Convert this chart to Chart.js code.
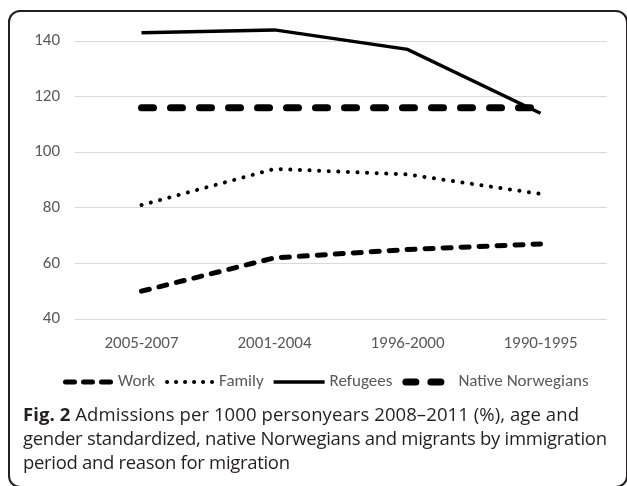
<!DOCTYPE html>
<html>
<head>
<meta charset="utf-8">
<script src="https://cdn.jsdelivr.net/npm/chart.js@4/dist/chart.umd.min.js"></script>
<style>
  html, body { margin: 0; padding: 0; background: #fff; }
  body { width: 627px; height: 486px; position: relative; overflow: hidden; }
  #wrap { position: absolute; left: 0; top: 0; width: 627px; height: 398px; }
  #frame {
    position: absolute; left: 8px; top: 10px; width: 616px; height: 474px;
    border: 2px solid #231f20; border-radius: 12px; pointer-events: none;
  }
  #caption {
    position: absolute; left: 23px; top: 402px; white-space: nowrap;
    font-family: "Open Sans", sans-serif; font-size: 18.5px; line-height: 24px;
    color: #231f20;
  }
  #caption span { display: block; width: max-content; }
  #caption b { font-weight: 700; }
</style>
</head>
<body>
<div id="wrap"><canvas id="myChart"></canvas></div>
<div id="frame"></div>
<div id="caption">
  <span data-w="556"><b>Fig. 2</b> Admissions per 1000 personyears 2008–2011 (%), age and</span>
  <span data-w="584">gender standardized, native Norwegians and migrants by immigration</span>
  <span data-w="267">period and reason for migration</span>
</div>
<script>
const perioder = ["2005-2007", "2001-2004", "1996-2000", "1990-1995"];
const work = [50, 62, 65, 67];
const family = [81, 94, 92, 85];
const refugees = [143, 144, 137, 114];
const nativeNorwegians = [116, 116, 116, 116];
const yTicks = [40, 60, 80, 100, 120, 140];

const fontFam = "Carlito, Lato, sans-serif";
const grey = "#595959";

// stretch / squeeze every caption line to the width it has in the figure
document.querySelectorAll("#caption span").forEach(s => {
    const cilj = parseFloat(s.dataset.w);
    const sirina = s.getBoundingClientRect().width;
    const n = s.textContent.length - 1;
    s.style.letterSpacing = ((cilj - sirina) / n) + "px";
});

let ctx = document.getElementById("myChart");

// legendDash / legendWidth: how the line sample looks in the legend row
const datasets = [{
    label: "Work",
    data: work,
    borderColor: "#000",
    borderWidth: 5,
    borderDash: [8, 10],
    borderCapStyle: "round",
    legendDash: [9, 9],
    legendWidth: 50
},
{
    label: "Family",
    data: family,
    borderColor: "#000",
    borderWidth: 4,
    borderDash: [0.1, 9.5],
    borderCapStyle: "round",
    legendDash: [0.1, 8.9],
    legendWidth: 49
},
{
    label: "Refugees",
    data: refugees,
    borderColor: "#000",
    borderWidth: 3.5,
    borderCapStyle: "butt",
    legendDash: [],
    legendWidth: 51
},
{
    label: "Native Norwegians",
    data: nativeNorwegians,
    borderColor: "#000",
    borderWidth: 7,
    borderDash: [12, 17],
    borderCapStyle: "round",
    legendDash: [10, 15],
    legendWidth: 42
}];

datasets.forEach(d => {
    d.pointRadius = 0;
    d.fill = false;
    d.tension = 0;
    d.clip = false;
});

const linijaLegenda = {
    id: "linijaLegenda",
    afterDraw(chart) {
        const c = chart.ctx;
        c.save();
        c.font = "17px " + fontFam;
        c.textBaseline = "middle";
        let x = 63;
        const y = 382;
        chart.data.datasets.forEach((d, i) => {
            const cap = d.borderCapStyle === "round" ? d.borderWidth / 2 : 0;
            c.beginPath();
            c.lineWidth = d.borderWidth;
            c.lineCap = d.borderCapStyle;
            c.strokeStyle = d.borderColor;
            c.setLineDash(d.legendDash);
            c.moveTo(x + cap, y);
            c.lineTo(x + d.legendWidth - cap, y);
            c.stroke();
            x += d.legendWidth + (i === 3 ? 14 : 5);
            c.setLineDash([]);
            c.fillStyle = grey;
            c.fillText(d.label, x, y);
            x += c.measureText(d.label).width + 10;
        });
        c.restore();
    }
};

const config = {
    type: "line",
    data: {
        labels: perioder,
        datasets: datasets
    },
    options: {
        responsive: true,
        maintainAspectRatio: false,
        animation: false,
        layout: { padding: { left: 0, right: 20, top: 41, bottom: 40 } },
        scales: {
            x: {
                offset: true,
                grid: { display: false },
                border: { display: false },
                ticks: { color: grey, font: { family: fontFam, size: 17 }, padding: 7 },
                afterFit: function(scale) { scale.height = 39; }
            },
            y: {
                min: 40,
                max: 140,
                afterBuildTicks: function(scale) { scale.ticks = yTicks.map(v => ({ value: v })); },
                grid: { color: "#d9d9d9", lineWidth: 1, drawTicks: false },
                border: { display: false },
                ticks: { color: grey, font: { family: fontFam, size: 17 }, padding: 15 },
                afterFit: function(scale) { scale.width = 75; }
            }
        },
        plugins: {
            legend: { display: false },
            tooltip: { enabled: false }
        }
    },
    plugins: [linijaLegenda]
};

let chart = new Chart(ctx, config);
</script>
</body>
</html>
